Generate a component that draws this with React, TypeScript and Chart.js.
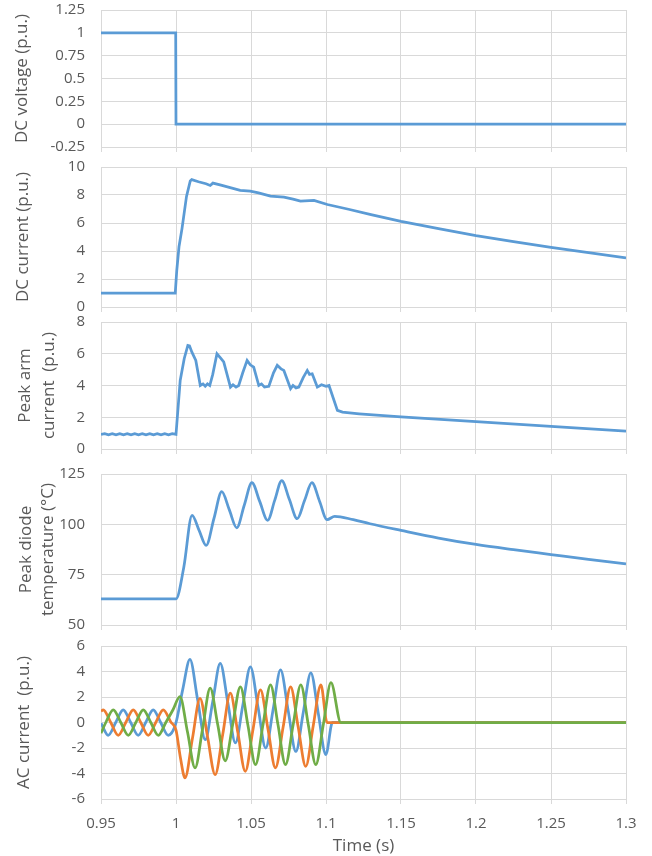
import React, { useEffect, useRef } from "react";
import { Chart, registerables } from "chart.js";
Chart.register(...registerables);

// ---------- data (time in s) ----------
const dcVoltage: number[][] = [
  [0.95, 1.0], [0.9998, 1.0], [1.0, 0.0], [1.3, 0.0],
];

const dcCurrent: number[][] = [
  [0.95, 1.0], [0.9995, 1.0], [1.0005, 2.6], [1.002, 4.3], [1.004, 5.6], [1.007, 7.9],
  [1.0095, 9.0], [1.0105, 9.1], [1.015, 8.95], [1.02, 8.8], [1.0228, 8.68], [1.0246, 8.85],
  [1.03, 8.7], [1.0428, 8.33], [1.0495, 8.28], [1.055, 8.15], [1.063, 7.92], [1.072, 7.85],
  [1.078, 7.7], [1.083, 7.56], [1.092, 7.61], [1.1009, 7.32], [1.115, 6.98], [1.13, 6.6],
  [1.15, 6.12], [1.175, 5.6], [1.2, 5.1], [1.225, 4.67], [1.25, 4.26], [1.275, 3.88], [1.3, 3.5],
];

const armCurrent: number[][] = [
  [0.95, 0.92], [0.9525, 0.97], [0.955, 0.9], [0.9575, 0.97], [0.96, 0.9], [0.9625, 0.97],
  [0.965, 0.9], [0.9675, 0.97], [0.97, 0.9], [0.9725, 0.97], [0.975, 0.9], [0.9775, 0.97],
  [0.98, 0.9], [0.9825, 0.97], [0.985, 0.9], [0.9875, 0.97], [0.99, 0.9], [0.9925, 0.97],
  [0.995, 0.9], [0.9975, 0.97], [1.0, 0.92],
  [1.0028, 4.32], [1.0055, 5.7], [1.0079, 6.53], [1.009, 6.5], [1.0106, 6.1], [1.0132, 5.58],
  [1.0162, 4.0], [1.018, 4.1], [1.0195, 3.95], [1.021, 4.1], [1.0225, 4.0], [1.0245, 4.7],
  [1.0273, 6.0], [1.0295, 5.75], [1.0318, 5.48], [1.0363, 3.9], [1.038, 4.05], [1.04, 3.9],
  [1.0418, 4.0], [1.0445, 4.8], [1.0474, 5.58], [1.0495, 5.3], [1.0518, 5.16], [1.0552, 4.0],
  [1.057, 4.1], [1.059, 3.9], [1.0619, 3.95], [1.065, 4.8], [1.0675, 5.27], [1.07, 5.05],
  [1.0719, 4.95], [1.0764, 3.8], [1.078, 4.0], [1.08, 3.85], [1.0819, 3.9], [1.0848, 4.5],
  [1.0875, 4.95], [1.089, 4.7], [1.0908, 4.74], [1.0942, 3.9], [1.097, 4.05], [1.1, 3.95],
  [1.102, 4.0], [1.1076, 2.43], [1.111, 2.32], [1.1221, 2.22], [1.15, 2.02], [1.2, 1.72],
  [1.25, 1.42], [1.3, 1.12],
];

const diodeTemp: number[][] = [
  [0.95, 63], [1.0, 63], [1.0052, 78.7], [1.0107, 104.5], [1.0154, 97], [1.0201, 89.5],
  [1.0253, 102.9], [1.0305, 116.2], [1.0355, 107.3], [1.0405, 98.3], [1.0455, 109.5],
  [1.0506, 120.7], [1.0558, 111.4], [1.0611, 102], [1.0658, 111.9], [1.0705, 121.7],
  [1.0756, 112.3], [1.0808, 102.8], [1.0857, 111.8], [1.0906, 120.7], [1.0957, 111.5],
  [1.1007, 102.3], [1.1058, 104], [1.1182, 102.3], [1.1293, 100.3], [1.15, 97], [1.175, 93.2],
  [1.2, 90], [1.225, 87.4], [1.25, 85], [1.275, 82.6], [1.3, 80.3],
];

const acPhaseA: number[][] = [
  [0.95, -0.06], [0.9548, -1], [0.9598, 0], [0.9648, 1], [0.9698, 0], [0.9748, -1], [0.9798, 0],
  [0.9848, 1], [0.9898, 0], [0.9948, -1], [0.9998, -0.1], [1.0045, 2.6], [1.0093, 4.95],
  [1.0144, 1.8], [1.0195, -1.35], [1.0245, 1.65], [1.0295, 4.64], [1.0346, 1.52], [1.0396, -1.6],
  [1.0446, 1.39], [1.0496, 4.37], [1.0547, 1.19], [1.0598, -2.0], [1.0648, 1.06], [1.0697, 4.12],
  [1.0748, 0.93], [1.0799, -2.27], [1.0849, 0.82], [1.0899, 3.9], [1.0949, 0.69], [1.0999, -2.52],
  [1.1043, 0], [1.3, 0],
];

const acPhaseB: number[][] = [
  [0.95, 0.89], [0.9515, 1], [0.9565, 0], [0.9615, -1], [0.9665, 0], [0.9715, 1], [0.9765, 0],
  [0.9815, -1], [0.9865, 0], [0.9915, 1], [0.9965, 0.05], [1.0, -0.6], [1.003, -2.8],
  [1.006, -4.34], [1.011, -1.22], [1.016, 1.9], [1.021, -1.1], [1.0261, -4.09], [1.0312, -0.9],
  [1.0362, 2.3], [1.0412, -0.77], [1.0462, -3.83], [1.0512, -0.64], [1.0563, 2.55], [1.0613, -0.5],
  [1.0663, -3.56], [1.0714, -0.38], [1.0764, 2.8], [1.0814, -0.32], [1.0865, -3.44], [1.0915, -0.25],
  [1.0966, 2.95], [1.1007, 0], [1.3, 0],
];

const acPhaseC: number[][] = [
  [0.95, -0.84], [0.9532, 0], [0.9582, 1], [0.9632, 0], [0.9682, -1], [0.9732, 0], [0.9782, 1],
  [0.9832, 0], [0.9882, -1], [0.9932, 0], [0.998, 1], [1.0026, 2.03], [1.0077, -0.77],
  [1.0127, -3.56], [1.0178, -0.43], [1.0228, 2.69], [1.0278, -0.15], [1.0328, -3.0], [1.0379, -0.1],
  [1.0429, 2.8], [1.048, -0.25], [1.053, -3.3], [1.058, -0.18], [1.063, 2.95], [1.068, -0.18],
  [1.073, -3.3], [1.0781, -0.18], [1.0832, 2.95], [1.0882, -0.18], [1.0932, -3.3], [1.0983, -0.1],
  [1.1033, 3.13], [1.1099, 0], [1.3, 0],
];

const timeRange = { min: 0.95, max: 1.3, step: 0.05 };
const xTitle = "Time (s)";

// ---------- styling ----------
const BLUE = "#5B9BD5";
const ORANGE = "#ED7D31";
const GREEN = "#70AD47";
const GRID = "#D9D9D9";
const TEXT = "#595959";
const FONT = "'Open Sans', sans-serif";

const fmt = (v: number | string) => String(Math.round(Number(v) * 100) / 100);

type PanelProps = {
  areaTop: number;
  areaBottom: number;
  datasets: any[];
  yMin: number;
  yMax: number;
  yStep: number;
  title: string | string[];
  titlePad: number;
  titleLH: number;
  showX: boolean;
};

function Panel(p: PanelProps) {
  const ref = useRef<HTMLCanvasElement>(null);
  const padTop = 10;
  const xh = p.showX ? 856 - p.areaBottom : 6;
  const padBottom = p.showX ? 0 : 4;
  const height = padTop + (p.areaBottom - p.areaTop) + xh + padBottom;
  const top = p.areaTop - padTop;

  useEffect(() => {
    if (!ref.current) return;
    const chart = new Chart(ref.current, {
      type: "line",
      data: { datasets: p.datasets },
      options: {
        animation: false,
        responsive: false,
        devicePixelRatio: 1,
        layout: { padding: { top: padTop, right: 26, left: 0, bottom: padBottom } },
        plugins: { legend: { display: false }, tooltip: { enabled: false } },
        elements: { point: { radius: 0 }, line: { borderWidth: 2.75 } },
        scales: {
          x: {
            type: "linear",
            min: timeRange.min,
            max: timeRange.max,
            ticks: {
              stepSize: timeRange.step,
              display: p.showX,
              padding: 11,
              color: TEXT,
              font: { family: FONT, size: 15 },
              maxRotation: 0,
              callback: (v: any) => fmt(v),
            },
            grid: { color: GRID, lineWidth: 1, tickLength: 5, drawTicks: true },
            border: { color: GRID },
            title: {
              display: p.showX,
              text: xTitle,
              color: TEXT,
              font: { family: FONT, size: 17 },
              padding: { top: 0, bottom: 0 },
            },
            afterFit: (s: any) => {
              s.height = xh;
            },
          } as any,
          y: {
            type: "linear",
            min: p.yMin,
            max: p.yMax,
            ticks: {
              stepSize: p.yStep,
              padding: 0,
              color: TEXT,
              font: { family: FONT, size: 15 },
              callback: (v: any) => fmt(v),
            },
            grid: {
              color: GRID,
              lineWidth: 1,
              drawTicks: true,
              tickLength: 16,
              tickColor: "rgba(0,0,0,0)",
            },
            border: { color: GRID },
            title: {
              display: true,
              text: p.title,
              color: TEXT,
              font: { family: FONT, size: 17, lineHeight: p.titleLH },
              padding: { top: p.titlePad, bottom: 0 },
            },
            afterFit: (s: any) => {
              s.width = 101;
            },
          } as any,
        },
      },
    });
    return () => chart.destroy();
  }, []);

  return (
    <canvas
      ref={ref}
      width={652}
      height={height}
      style={{ position: "absolute", left: 0, top, width: 652, height }}
    />
  );
}

const lineDs = (data: number[][], color: string, smooth: boolean) => ({
  data,
  borderColor: color,
  backgroundColor: color,
  fill: false,
  pointRadius: 0,
  borderWidth: 2.75,
  cubicInterpolationMode: smooth ? "monotone" : "default",
  tension: 0,
});

export default function App() {
  return (
    <div
      style={{
        position: "absolute",
        left: 0,
        top: 0,
        width: 652,
        height: 856,
        overflow: "hidden",
        background: "#ffffff",
      }}
    >
      <Panel
        areaTop={10}
        areaBottom={147}
        datasets={[lineDs(dcVoltage, BLUE, false)]}
        yMin={-0.25}
        yMax={1.25}
        yStep={0.25}
        title="DC voltage (p.u.)"
        titlePad={12}
        titleLH={1.2}
        showX={false}
      />
      <Panel
        areaTop={167}
        areaBottom={307}
        datasets={[lineDs(dcCurrent, BLUE, false)]}
        yMin={0}
        yMax={10}
        yStep={2}
        title="DC current (p.u.)"
        titlePad={13}
        titleLH={1.2}
        showX={false}
      />
      <Panel
        areaTop={322}
        areaBottom={449}
        datasets={[lineDs(armCurrent, BLUE, false)]}
        yMin={0}
        yMax={8}
        yStep={2}
        title={["Peak arm", "current  (p.u.)"]}
        titlePad={13}
        titleLH={1.41}
        showX={false}
      />
      <Panel
        areaTop={474}
        areaBottom={625}
        datasets={[lineDs(diodeTemp, BLUE, true)]}
        yMin={50}
        yMax={125}
        yStep={25}
        title={["Peak diode", "temperature (°C)"]}
        titlePad={15}
        titleLH={1.3}
        showX={false}
      />
      <Panel
        areaTop={646}
        areaBottom={799}
        datasets={[
          lineDs(acPhaseC, GREEN, true),
          lineDs(acPhaseB, ORANGE, true),
          lineDs(acPhaseA, BLUE, true),
        ]}
        yMin={-6}
        yMax={6}
        yStep={2}
        title="AC current  (p.u.)"
        titlePad={14}
        titleLH={1.2}
        showX={true}
      />
    </div>
  );
}
